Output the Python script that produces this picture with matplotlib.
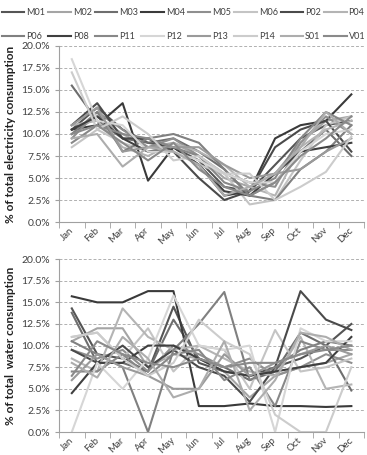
import matplotlib
matplotlib.use("Agg")
import numpy as np
import matplotlib.pyplot as plt
from matplotlib.ticker import FuncFormatter, MultipleLocator

plt.rcParams["font.family"] = ["Lato", "DejaVu Sans"]

months = ["Jan", "Feb", "Mar", "Apr", "May", "Jun",
          "Jul", "Aug", "Sep", "Oct", "Nov", "Dec"]

sites = ["M01", "M02", "M03", "M04", "M05", "M06", "P02", "P04",
         "P06", "P08", "P11", "P12", "P13", "P14", "S01", "V01"]

colors = ["#555555", "#a5a5a5", "#6e6e6e", "#3a3a3a", "#8f8f8f", "#c4c4c4",
          "#4a4a4a", "#b4b4b4", "#808080", "#3f3f3f", "#888888", "#d6d6d6",
          "#9a9a9a", "#cccccc", "#adadad", "#8a8a8a"]

# electricity share per month (%)
elec_M01 = [10.5, 13.0, 10.5, 9.0, 8.5, 7.0, 4.0, 3.5, 6.5, 9.5, 11.0, 11.5]
elec_M02 = [10.0, 12.0, 10.0, 8.5, 9.0, 7.5, 5.0, 4.0, 5.5, 9.0, 11.5, 12.0]
elec_M03 = [15.5, 11.5, 9.5, 9.0, 9.5, 8.0, 6.0, 3.0, 4.5, 8.0, 10.5, 7.5]
elec_M04 = [10.5, 11.0, 13.5, 4.7, 8.5, 6.5, 3.0, 3.5, 9.5, 11.0, 11.5, 14.5]
elec_M05 = [9.5, 12.5, 10.5, 8.5, 9.5, 7.5, 5.5, 4.5, 4.0, 9.0, 12.0, 10.0]
elec_M06 = [8.5, 10.5, 9.0, 8.0, 8.0, 6.5, 5.5, 2.0, 2.5, 7.0, 11.0, 12.0]
elec_P02 = [11.0, 13.5, 9.5, 9.5, 8.0, 5.0, 2.5, 3.5, 8.5, 10.5, 11.5, 8.0]
elec_P04 = [11.0, 11.5, 8.5, 7.5, 9.0, 8.0, 6.5, 4.0, 3.0, 8.5, 10.5, 11.5]
elec_P06 = [10.0, 12.5, 8.0, 9.5, 10.0, 9.0, 6.0, 3.0, 2.5, 6.0, 8.0, 11.0]
elec_P08 = [10.5, 12.0, 9.5, 8.0, 8.5, 6.5, 3.5, 3.0, 5.5, 8.0, 8.5, 9.0]
elec_P11 = [9.0, 11.0, 10.0, 9.5, 8.5, 7.5, 4.5, 3.5, 5.0, 9.5, 12.5, 11.0]
elec_P12 = [18.5, 11.5, 11.0, 8.0, 8.0, 7.0, 5.5, 4.5, 4.5, 8.0, 10.0, 10.5]
elec_P13 = [11.0, 13.0, 8.0, 8.5, 8.5, 8.5, 6.5, 5.0, 5.5, 6.0, 8.0, 9.5]
elec_P14 = [17.0, 10.5, 12.0, 10.0, 7.0, 7.5, 5.5, 5.5, 2.5, 4.0, 5.7, 9.7]
elec_S01 = [9.5, 10.0, 6.3, 8.5, 8.0, 6.5, 3.0, 4.0, 5.5, 8.5, 12.5, 10.0]
elec_V01 = [10.0, 11.0, 9.0, 7.0, 9.0, 6.0, 4.0, 3.0, 4.5, 7.5, 9.5, 12.0]

# water share per month (%)
water_M01 = [14.3, 9.0, 8.5, 7.0, 14.5, 8.0, 7.0, 6.5, 7.5, 8.5, 10.0, 12.5]
water_M02 = [10.5, 12.0, 12.0, 7.5, 9.0, 8.5, 7.0, 4.0, 6.5, 7.5, 8.0, 9.0]
water_M03 = [13.8, 8.0, 8.0, 7.0, 13.0, 8.5, 7.5, 6.0, 7.0, 11.5, 10.0, 4.8]
water_M04 = [15.7, 15.0, 15.0, 16.3, 16.3, 3.0, 3.0, 3.3, 3.0, 3.0, 2.9, 3.0]
water_M05 = [9.5, 8.5, 9.5, 7.0, 10.0, 9.0, 7.5, 8.5, 6.5, 7.5, 9.0, 8.0]
water_M06 = [11.0, 11.5, 8.5, 12.0, 7.0, 10.0, 9.5, 5.0, 11.8, 7.0, 7.5, 8.5]
water_P02 = [9.5, 8.0, 10.0, 7.5, 9.5, 7.5, 6.5, 3.5, 7.5, 16.3, 13.0, 11.8]
water_P04 = [8.5, 7.0, 14.3, 11.0, 9.5, 10.0, 8.5, 7.0, 6.5, 11.0, 5.0, 5.5]
water_P06 = [10.5, 9.0, 7.5, 0.0, 9.5, 12.5, 16.2, 6.0, 7.5, 9.5, 10.5, 10.0]
water_P08 = [4.5, 8.0, 8.0, 10.0, 10.0, 8.5, 7.0, 6.5, 7.0, 7.5, 8.0, 11.0]
water_P11 = [7.0, 7.0, 9.0, 6.5, 9.0, 9.5, 6.0, 7.5, 3.0, 10.5, 9.5, 9.5]
water_P12 = [0.0, 8.0, 5.0, 8.5, 15.8, 10.0, 9.5, 10.0, 0.0, 12.0, 10.5, 10.5]
water_P13 = [6.0, 9.0, 7.5, 6.5, 5.0, 5.0, 9.0, 6.5, 8.0, 9.0, 10.0, 9.0]
water_P14 = [11.0, 11.5, 8.5, 6.5, 8.0, 13.0, 10.5, 9.0, 2.0, 0.0, 0.0, 7.5]
water_S01 = [8.0, 6.3, 11.0, 8.5, 4.0, 5.0, 10.5, 2.5, 6.0, 11.5, 11.0, 9.5]
water_V01 = [6.5, 10.5, 9.0, 8.0, 7.5, 8.5, 7.5, 8.0, 8.0, 9.0, 9.5, 10.0]

elec = [elec_M01, elec_M02, elec_M03, elec_M04, elec_M05, elec_M06, elec_P02, elec_P04,
        elec_P06, elec_P08, elec_P11, elec_P12, elec_P13, elec_P14, elec_S01, elec_V01]
water = [water_M01, water_M02, water_M03, water_M04, water_M05, water_M06, water_P02, water_P04,
         water_P06, water_P08, water_P11, water_P12, water_P13, water_P14, water_S01, water_V01]


def style_axes(ax, ylabel):
    ax.set_xlim(-0.5, 11.5)
    ax.set_ylim(0, 20)
    ax.yaxis.set_major_locator(MultipleLocator(2.5))
    ax.yaxis.set_major_formatter(FuncFormatter(lambda v, _: f"{v:.1f}%"))
    ax.grid(axis="y", color="#b0b0b0", linestyle=(0, (3, 2)), linewidth=0.7)
    ax.set_axisbelow(True)
    for s in ["top", "right"]:
        ax.spines[s].set_visible(False)
    for s in ["left", "bottom"]:
        ax.spines[s].set_color("#a0a0a0")
        ax.spines[s].set_linewidth(0.8)
    ax.set_xticks(range(12))
    ax.set_xticklabels(months, rotation=45, ha="right", va="center",
                       rotation_mode="anchor", fontsize=7, color="#404040")
    ax.set_xticks(np.arange(-0.5, 12.0, 1.0), minor=True)
    ax.tick_params(axis="x", which="major", length=0, pad=5)
    ax.tick_params(axis="x", which="minor", length=4, color="#a0a0a0")
    ax.tick_params(axis="y", length=3, color="#a0a0a0", labelsize=7.5, labelcolor="#404040")
    ax.set_ylabel(ylabel, fontsize=8.5, fontweight="bold", color="#222222", labelpad=4)


fig = plt.figure(figsize=(3.67, 4.55), dpi=100)
ax1 = fig.add_axes([0.161, 0.512, 0.831, 0.387])
ax2 = fig.add_axes([0.161, 0.0505, 0.831, 0.380])

x = np.arange(12)
handles = []
for name, c, e, w in zip(sites, colors, elec, water):
    h, = ax1.plot(x, e, color=c, linewidth=1.5, label=name)
    ax2.plot(x, w, color=c, linewidth=1.5)
    handles.append(h)

style_axes(ax1, "% of total electricity consumption")
style_axes(ax2, "% of total  water consumption")

# legend fills column by column, so interleave the two rows
order = [i + r * 8 for i in range(8) for r in range(2)]
fig.legend(handles=[handles[i] for i in order], labels=[sites[i] for i in order],
           loc="upper center", bbox_to_anchor=(0.5, 1.0),
           ncol=8, frameon=False, fontsize=6.5, handlelength=2.5, handletextpad=0.2,
           columnspacing=0.35, labelspacing=1.7, labelcolor="#404040")

fig.savefig("out.png", dpi=100)
